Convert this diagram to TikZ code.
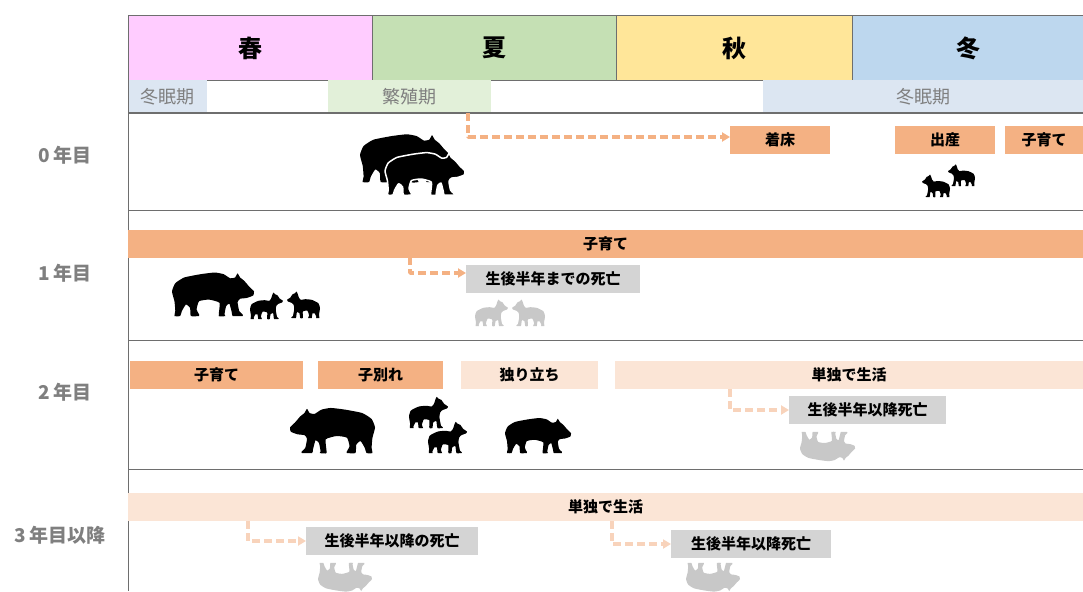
\documentclass[tikz,border=0pt]{standalone}
\usepackage{fontspec}
\setmainfont{Noto Sans CJK JP}
\usetikzlibrary{arrows.meta}
\definecolor{haru}{HTML}{FFCCFF}
\definecolor{natsu}{HTML}{C5E0B4}
\definecolor{aki}{HTML}{FFE699}
\definecolor{fuyu}{HTML}{BDD7EE}
\definecolor{toumin}{HTML}{DCE6F2}
\definecolor{hanshoku}{HTML}{E2F0D9}
\definecolor{kosodate}{HTML}{F4B183}
\definecolor{tandoku}{HTML}{FBE5D6}
\definecolor{yajiusu}{HTML}{F8D3BB}
\definecolor{shibou}{HTML}{D4D4D4}
\definecolor{usui}{HTML}{C8C8C8}
\definecolor{waku}{HTML}{6E6E6E}
\definecolor{moji}{HTML}{7F7F7F}
\newcommand{\jsize}[1]{\fontsize{#1}{#1}\selectfont}
\tikzset{
	kuma/.pic={\fill[pic actions] plot[smooth cycle, tension=0.3] coordinates {
		(0.00,-0.30) (0.04,-0.40) (0.15,-0.47) (0.35,-0.51) (0.52,-0.53)
		(0.63,-0.51) (0.71,-0.46) (0.77,-0.47) (0.80,-0.52) (0.83,-0.47)
		(0.88,-0.43) (0.94,-0.36) (1.00,-0.30) (0.99,-0.25) (0.91,-0.22)
		(0.83,-0.21) (0.80,-0.17) (0.82,-0.06) (0.86,-0.02) (0.86,0)
		(0.74,0) (0.73,-0.04) (0.70,-0.15) (0.66,-0.12) (0.64,-0.02)
		(0.65,0) (0.57,0) (0.58,-0.16) (0.45,-0.20) (0.33,-0.18)
		(0.30,-0.08) (0.33,-0.02) (0.33,0) (0.23,0) (0.22,-0.10)
		(0.17,-0.14) (0.12,-0.06) (0.10,0) (0.03,0) (0.04,-0.06)
		(0.03,-0.18)};},
	koguma/.pic={\fill[pic actions] plot[smooth cycle, tension=0.3] coordinates {
		(0.00,-0.30) (0.05,-0.45) (0.25,-0.55) (0.45,-0.57) (0.58,-0.55)
		(0.64,-0.62) (0.68,-0.74) (0.71,-0.80) (0.76,-0.75) (0.83,-0.72)
		(0.90,-0.62) (1.00,-0.55) (0.97,-0.50) (0.86,-0.46) (0.80,-0.40)
		(0.78,-0.28) (0.82,-0.06) (0.87,-0.02) (0.86,0) (0.73,0)
		(0.70,-0.18) (0.62,-0.14) (0.60,0) (0.52,0) (0.52,-0.20)
		(0.38,-0.22) (0.33,-0.08) (0.36,0) (0.25,0) (0.23,-0.14)
		(0.16,-0.14) (0.11,-0.03) (0.12,0) (0.02,0) (0.03,-0.10)};}
}
\begin{document}
\begin{tikzpicture}[x=1pt, y=-1pt, line join=round, >=Stealth,
	kisetsu/.style={draw=waku, line width=1pt, anchor=north west, minimum width=244, minimum height=65, inner sep=0pt, font=\jsize{24}\bfseries},
	kikan/.style={anchor=north west, minimum height=33, inner sep=0pt, text=moji, font=\jsize{18}},
	nenme/.style={text=moji, font=\jsize{19}\bfseries},
	oban/.style={fill=kosodate, anchor=west, minimum height=28, inner sep=0pt, font=\jsize{15}\bfseries},
	usuban/.style={oban, fill=tandoku},
	shiban/.style={oban, fill=shibou},
	yaji/.style={draw=kosodate, line width=3.5pt, dash pattern=on 8pt off 4pt, -{Triangle[length=8pt,width=9pt]}},
	yajiu/.style={yaji, draw=yajiusu}]
	\useasboundingbox (0,0) rectangle (1083,591);
	% kisetsu
	\node[kisetsu, fill=haru] (haru) at (128,15) {春};
	\node[kisetsu, fill=natsu] (natsu) at (372,15) {夏};
	\node[kisetsu, fill=aki, minimum width=236] (aki) at (616,15) {秋};
	\node[kisetsu, fill=fuyu, minimum width=231] (fuyu) at (852,15) {冬};
	\node[kikan, fill=toumin, minimum width=79] (toumin1) at (128,80) {冬眠期};
	\node[kikan, fill=hanshoku, minimum width=163] (hanshoku) at (328,80) {繁殖期};
	\node[kikan, fill=toumin, minimum width=320] (toumin2) at (763,80) {冬眠期};
	\draw[waku, line width=1pt] (128,15) -- (128,591);
	\draw[waku, line width=1.2pt] (128,113) -- (1083,113);
	\draw[waku, line width=1pt] (128,210) -- (1083,210) (128,340) -- (1083,340) (128,469) -- (1083,469);
	% nenme
	\node[nenme] (n0) at (65,155) {0 年目};
	\node[nenme] (n1) at (65,273) {1 年目};
	\node[nenme] (n2) at (65,392) {2 年目};
	\node[nenme] (n3) at (60,535) {3 年目以降};
	% 0 nenme
	\node[oban, minimum width=100] (chakushou) at (730,140) {着床};
	\node[oban, minimum width=100] (shussan) at (895,140) {出産};
	\node[oban, minimum width=78] (kosodate0) at (1005,140) {子育て};
	\coordinate (s0) at (468,113);
	\draw[yaji] (s0) |- ([yshift=3pt]chakushou.west);
	\pic at (360,182) [scale=90] {kuma};
	\pic[draw=white, line width=1.5pt] at (385,195) [scale=80] {kuma};
	\pic at (950,197) [xscale=-28, yscale=28] {koguma};
	\pic at (975,186) [xscale=-27, yscale=27] {koguma};
	% 1 nenme
	\node[oban, minimum width=955] (kosodate1) at (128,243.5) {子育て};
	\node[shiban, minimum width=174] (shibou1) at (466,279) {生後半年までの死亡};
	\coordinate (s1) at (410,257);
	\draw[yaji] (s1) |- ([yshift=6pt]shibou1.west);
	\pic at (172,316) [scale=82] {kuma};
	\pic at (250,319) [scale=33] {koguma};
	\pic at (320,318) [xscale=-33, yscale=33] {koguma};
	\pic at (475,326) [scale=33, usui] {koguma};
	\pic at (545,326) [xscale=-33, yscale=33, usui] {koguma};
	% 2 nenme
	\node[oban, minimum width=173] (kosodate2) at (130,375) {子育て};
	\node[oban, minimum width=125] (kowakare) at (318,375) {子別れ};
	\node[usuban, minimum width=137] (hitoridachi) at (461,375) {独り立ち};
	\node[usuban, minimum width=468] (tandoku2) at (615,375) {単独で生活};
	\node[shiban, minimum width=157] (shibou2) at (789,410) {生後半年以降死亡};
	\coordinate (s2) at (730,389);
	\draw[yajiu] (s2) |- (shibou2.west);
	\pic at (375,453) [xscale=-85, yscale=85] {kuma};
	\pic at (409,428) [scale=39] {koguma};
	\pic at (428,453) [scale=39] {koguma};
	\pic at (505,453) [scale=66] {kuma};
	\pic at (800,432) [xscale=55, yscale=-55, usui] {kuma};
	% 3 nenme
	\node[usuban, minimum width=955] (tandoku3) at (128,507) {単独で生活};
	\node[shiban, minimum width=172] (shibou3) at (306,541) {生後半年以降の死亡};
	\node[shiban, minimum width=160] (shibou4) at (671,544) {生後半年以降死亡};
	\coordinate (s3) at (248,521);
	\coordinate (s4) at (612,521);
	\draw[yajiu] (s3) |- (shibou3.west);
	\draw[yajiu] (s4) |- (shibou4.west);
	\pic at (318,563) [xscale=54, yscale=-54, usui] {kuma};
	\pic at (686,563) [xscale=54, yscale=-54, usui] {kuma};
\end{tikzpicture}
\end{document}
